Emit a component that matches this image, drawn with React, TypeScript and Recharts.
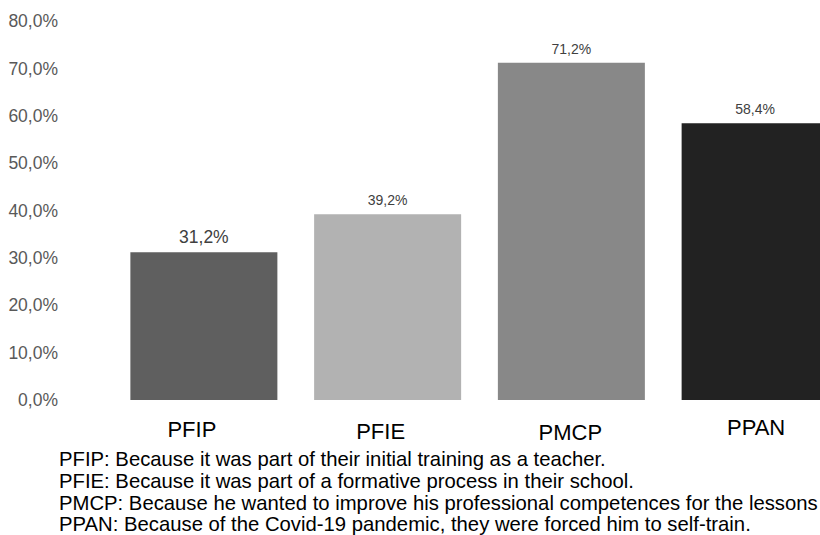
import { Bar, BarChart, Cell, LabelList, XAxis, YAxis } from "recharts"

const categories = ["PFIP", "PFIE", "PMCP", "PPAN"]
const shares = [31.2, 39.2, 71.2, 58.4]
const yTicks = [0, 10, 20, 30, 40, 50, 60, 70, 80]
const notes = [
  "PFIP: Because it was part of their initial training as a teacher.",
  "PFIE: Because it was part of a formative process in their school.",
  "PMCP: Because he wanted to improve his professional competences for the lessons",
  "PPAN: Because of the Covid-19 pandemic, they were forced him to self-train.",
]

const barColors = ["#5f5f5f", "#b2b2b2", "#888888", "#222222"]
const font = "'Liberation Sans', Arial, sans-serif"

const pct = (v: number) => `${v.toFixed(1).replace(".", ",")}%`

// small hand-tuned nudges so the axis labels sit like the original
const tickNudge = [
  { dx: -12, dy: 0 },
  { dx: -7, dy: 2 },
  { dx: -1, dy: 3 },
  { dx: 1, dy: -2 },
]

function CategoryTick(props: any) {
  const { x, y, payload, index } = props
  const n = tickNudge[index] || { dx: 0, dy: 0 }
  return (
    <text
      x={x + n.dx}
      y={y + n.dy}
      dy="0.71em"
      textAnchor="middle"
      fill="#000"
      fontSize={22}
      fontFamily={font}
    >
      {payload.value}
    </text>
  )
}

function ValueLabel(props: any) {
  const { x, y, width, value, index } = props
  const big = index === 0
  return (
    <text
      x={x + width / 2}
      y={y - 9}
      textAnchor="middle"
      fill="#404040"
      fontSize={big ? 17.5 : 14}
      fontFamily={font}
    >
      {pct(value)}
    </text>
  )
}

export default function App() {
  const data = categories.map((name, i) => ({ name, value: shares[i] }))

  return (
    <div
      style={{
        position: "absolute",
        left: 0,
        top: 0,
        width: 820,
        height: 535,
        overflow: "hidden",
        background: "#fff",
      }}
    >
      <BarChart
        width={847}
        height={535}
        data={data}
        margin={{ top: 21, right: 0, bottom: 95, left: 0 }}
        barCategoryGap="10%"
      >
        <XAxis
          dataKey="name"
          axisLine={false}
          tickLine={false}
          tickSize={0}
          tickMargin={21}
          height={40}
          interval={0}
          tick={<CategoryTick />}
        />
        <YAxis
          domain={[0, 80]}
          ticks={yTicks}
          width={112}
          axisLine={false}
          tickLine={false}
          tickSize={0}
          tickMargin={54}
          tickFormatter={pct}
          tick={{ fill: "#595959", fontSize: 17.5, fontFamily: font }}
        />
        <Bar dataKey="value" isAnimationActive={false}>
          {data.map((_, i) => (
            <Cell key={i} fill={barColors[i]} />
          ))}
          <LabelList dataKey="value" content={<ValueLabel />} />
        </Bar>
      </BarChart>
      <div
        style={{
          position: "absolute",
          left: 59,
          top: 449,
          fontFamily: font,
          fontSize: 20.3,
          lineHeight: "21.8px",
          color: "#000",
          whiteSpace: "nowrap",
        }}
      >
        {notes.map((line) => (
          <div key={line}>{line}</div>
        ))}
      </div>
    </div>
  )
}
